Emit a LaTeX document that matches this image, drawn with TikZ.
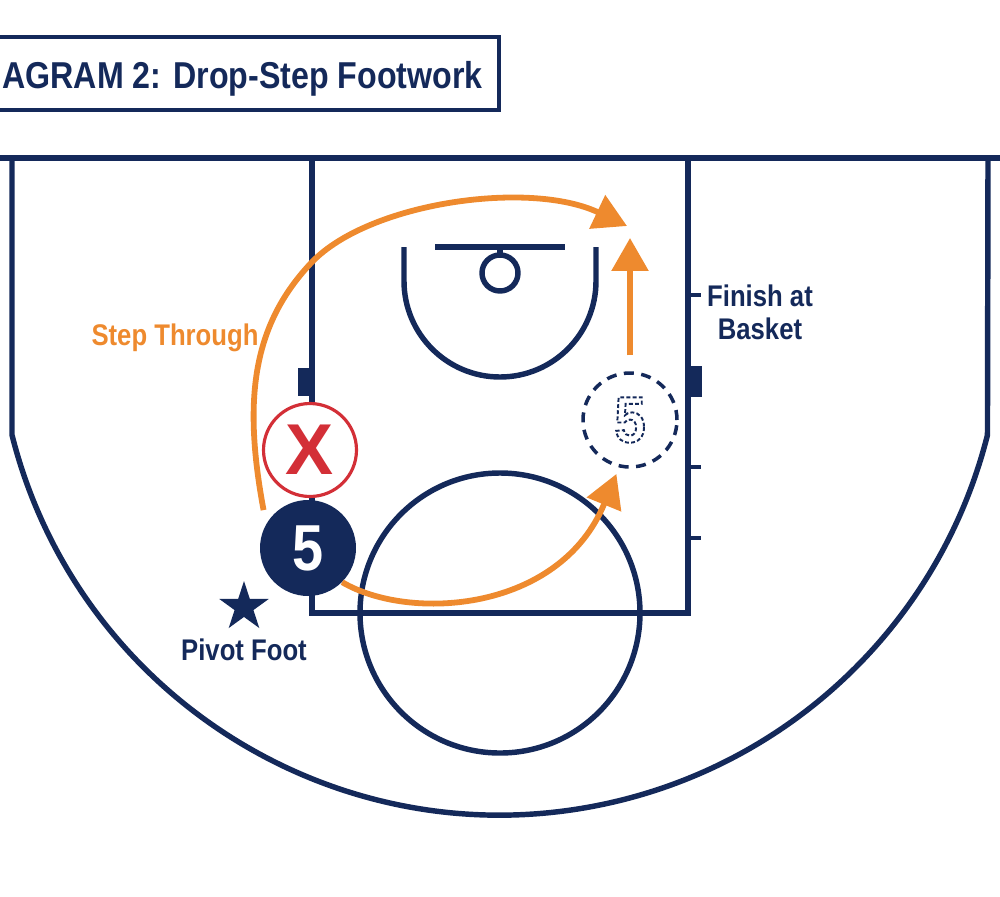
\documentclass[tikz,border=0pt]{standalone}
\usepackage{fontspec}
\setmainfont{Liberation Sans}
\newfontfamily\condfont{Liberation Sans}[FakeStretch=0.86]
\usetikzlibrary{arrows.meta,shapes.geometric}
\definecolor{navy}{HTML}{14295A}
\definecolor{drillorange}{HTML}{EE8A2E}
\definecolor{defred}{HTML}{D32F37}
\newcommand{\outlinefive}{\special{pdf:literal direct 1 Tr 1.1 w [2.2 1.3] 0 d}5\special{pdf:literal direct 0 Tr [] 0 d}}
\begin{document}
\begin{tikzpicture}[x=0.02cm,y=-0.02cm,
  court/.style={draw=navy,line width=3.1pt},
  move/.style={draw=drillorange,line width=3.3pt,-{Triangle[length=0.66cm,width=0.72cm]}},
  player/.style={circle,minimum size=1.92cm,inner sep=0pt,font=\condfont\bfseries\fontsize{37}{37}\selectfont},
  lbl/.style={inner sep=0pt,font=\condfont\bfseries\fontsize{17}{20}\selectfont}]
   \useasboundingbox (0,0) rectangle (1000,896);
   \clip (0,0) rectangle (1000,896);
   \draw (-20,37) rectangle (499,110)[navy,line width=2pt];
   \node[anchor=base west,inner sep=0pt,text=navy,font=\condfont\bfseries\fontsize{21.3}{24}\selectfont] (title) at (2,88) {AGRAM 2: Drop-Step Footwork};

   \draw (0,158) -- (1000,158)[court];
   \draw (12,158) -- (12,435) arc (165.85:14.15:503) -- (988,158)[court];
   \draw (312,158) -- (312,613) -- (688,613) -- (688,158)[court];
   \draw (404,247) -- (404,281) arc (180:0:96) -- (596,247)[court];
   \draw (435,247) -- (565,247)[court];
   \draw (500,247) -- (500,256)[court];
   \draw (500,273) circle[radius=18][court];
   \draw (500,613) circle[radius=140][court];
   \fill[navy] (298,368) rectangle (312,396);
   \fill[navy] (688,366) rectangle (702,397);
   \foreach \y in {295,467,538}
      \draw (688,\y) -- (701,\y)[navy,line width=2.5pt];

   \node[player,draw=defred,line width=1.8pt,fill=white,text=defred,minimum size=1.86cm,font=\bfseries\fontsize{41}{41}\selectfont] (xdef) at (310,450) {X};
   \node[player,fill=navy,text=white] (five) at (308,548) {5};
   \node[player,draw=navy,fill=white,line width=2pt,dash pattern=on 0.2cm off 0.15cm,minimum size=1.88cm,text=navy] (ghost) at (630,420) {\outlinefive};
   \node[star,star points=5,star point ratio=2.618,fill=navy,minimum size=1.04cm,inner sep=0pt] (pivot) at (244,607) {};

   \coordinate (stepend) at (627,226);
   \coordinate (finish) at (630,238);
   \draw[move,shorten <=0.28cm] (five.150) .. controls (243,400) and (252,325) .. (312,262)
      .. controls (370,202) and (530,180) .. (stepend);
   \draw[move,shorten <=0.32cm] (ghost.north) -- (finish);
   \draw[move,shorten >=0.14cm] (five.-45) .. controls (410,622) and (560,612) .. (ghost.-103);

   \node[lbl,text=drillorange,anchor=base] (steplbl) at (175,345) {Step Through};
   \node[lbl,text=navy,align=center,anchor=north] (finishlbl) at (760,284) {Finish at\\[-1pt] Basket};
   \node[lbl,text=navy] (pivotlbl) at (244,650) {Pivot Foot};
 \end{tikzpicture}
\end{document}
